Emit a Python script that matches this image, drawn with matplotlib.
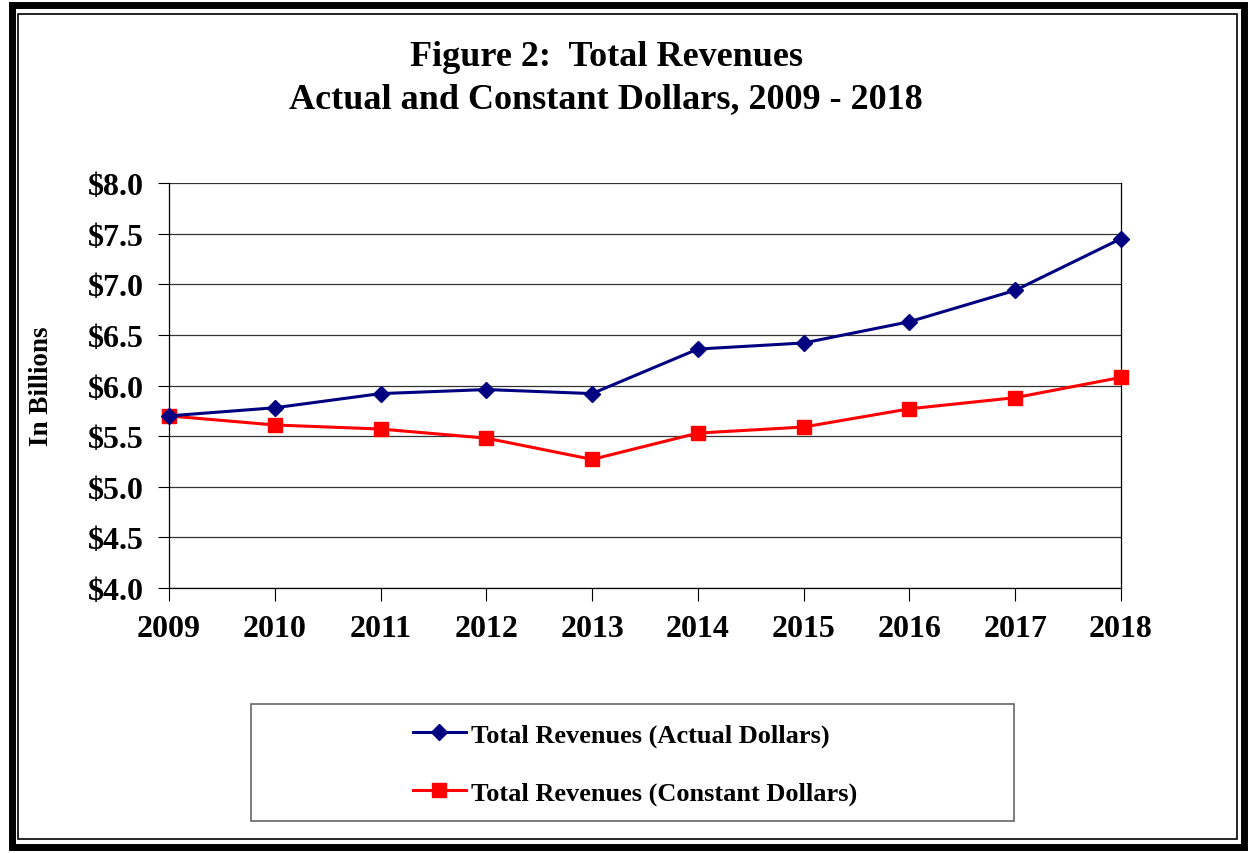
import numpy as np
import matplotlib
matplotlib.use("Agg")
import matplotlib.pyplot as plt
from matplotlib.patches import Rectangle

years = ['2009', '2010', '2011', '2012', '2013', '2014', '2015', '2016', '2017', '2018']
actual = [5.70, 5.78, 5.92, 5.96, 5.92, 6.36, 6.42, 6.63, 6.94, 7.45]
constant = [5.70, 5.61, 5.57, 5.48, 5.27, 5.53, 5.59, 5.77, 5.88, 6.08]
yticks = [4.0, 4.5, 5.0, 5.5, 6.0, 6.5, 7.0, 7.5, 8.0]
ytick_labels = ['$%.1f' % v for v in yticks]

plt.rcParams['font.family'] = ['Liberation Serif', 'DejaVu Serif']
plt.rcParams['font.weight'] = 'bold'

W, H = 1251, 854
fig = plt.figure(figsize=(W / 100, H / 100), dpi=100)

# cadre double autour de la figure
fig.patches.append(Rectangle((11.5 / W, 1 - 848 / H), 1232 / W, 842 / H,
                             transform=fig.transFigure, fill=False,
                             edgecolor='black', linewidth=5))
fig.patches.append(Rectangle((18 / W, 1 - 840 / H), 1219 / W, 825 / H,
                             transform=fig.transFigure, fill=False,
                             edgecolor='black', linewidth=1.2))

ax = fig.add_axes([169 / W, 1 - 589 / H, (1121 - 169) / W, (589 - 184) / H])
x = np.arange(len(years))

ax.plot(x, actual, color='#000080', lw=2.2, marker='D', ms=8.5,
        label='Total Revenues (Actual Dollars)', clip_on=False, zorder=4)
ax.plot(x, constant, color='#FF0000', lw=2.2, marker='s', ms=10,
        label='Total Revenues (Constant Dollars)', clip_on=False, zorder=3)

ax.set_xlim(0, len(years) - 1)
ax.set_ylim(4.0, 8.0)
ax.set_xticks(x)
ax.set_xticklabels(years, fontsize=23, fontweight='bold')
ax.set_yticks(yticks)
ax.set_yticklabels(ytick_labels, fontsize=23, fontweight='bold')
ax.tick_params(axis='x', direction='out', length=9, width=0.8, pad=10)
ax.tick_params(axis='y', direction='out', length=8, width=0.8, pad=10)
ax.yaxis.grid(True, color='#333333', lw=0.9)
ax.set_axisbelow(True)
ax.spines['top'].set_visible(False)
for s in ['left', 'bottom', 'right']:
    ax.spines[s].set_linewidth(0.9)
ax.set_ylabel('In Billions', fontsize=19.5, fontweight='bold')
ax.yaxis.set_label_coords((54 - 169) / 952, 0.5)

fig.text(606 / W, 1 - 58 / H, 'Figure 2:  Total Revenues', ha='center', va='center',
         fontsize=26, fontweight='bold')
fig.text(606 / W, 1 - 100 / H, 'Actual and Constant Dollars, 2009 - 2018', ha='center',
         va='center', fontsize=26, fontweight='bold')

# boite de la legende
fig.patches.append(Rectangle((251 / W, 1 - 822 / H), (1014 - 251) / W, (822 - 705) / H,
                             transform=fig.transFigure, fill=False,
                             edgecolor='#666666', linewidth=1.2))
fig.legend(loc='center', bbox_to_anchor=(635 / W, 1 - 765 / H), frameon=False,
           prop={'family': 'Liberation Serif', 'weight': 'bold', 'size': 19},
           handlelength=2.0, labelspacing=1.3, handletextpad=0.2)

fig.savefig('out.png', dpi=100)
